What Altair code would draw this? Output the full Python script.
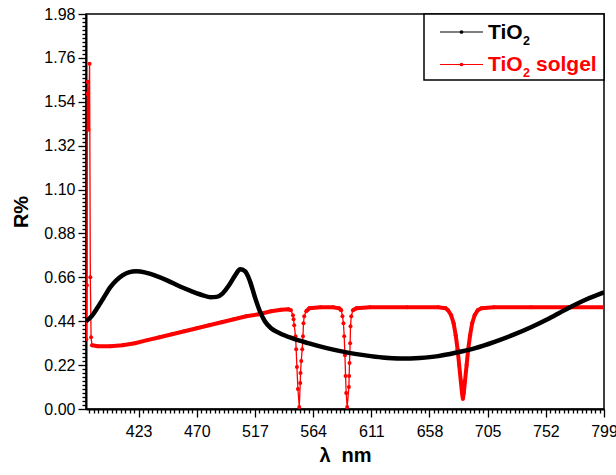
import altair as alt
import numpy as np
import pandas as pd

# ---- measured reflectance spectra -------------------------------------
tio2_nm = [380.5, 385, 390, 395, 400, 405, 410, 415, 421, 428, 436, 446, 456,
           466, 475, 481, 486, 491, 496, 501, 505, 509, 513, 517, 521, 525, 530,
           537, 547, 560, 575, 590, 605, 620, 635, 650, 665, 680, 695, 710,
           725, 740, 755, 770, 785, 799]
tio2_r = [0.44, 0.465, 0.51, 0.56, 0.61, 0.645, 0.67, 0.685, 0.69, 0.685, 0.67,
          0.645, 0.615, 0.59, 0.57, 0.56, 0.562, 0.58, 0.62, 0.67, 0.70, 0.69,
          0.64, 0.56, 0.49, 0.44, 0.405, 0.38, 0.355, 0.33, 0.305, 0.285, 0.27,
          0.258, 0.253, 0.256, 0.265, 0.283, 0.305, 0.335, 0.37, 0.41, 0.455,
          0.505, 0.55, 0.585]

solgel_nm = [380.7, 381.2, 381.6, 381.9, 382.5, 383.4, 384.0, 384.6, 385.3,
             390, 400, 410, 420, 430, 440, 450, 460, 470, 480, 490, 500, 510,
             520, 530, 538, 544,
             546.1, 547.7, 548.2, 548.7, 549.8, 550.3, 550.9, 551.7, 552.8,
             553.6, 553.8, 554.4, 555.2, 555.8, 556.2, 556.8, 558.4,
             561, 570, 580, 585,
             586.7, 587.7, 588.5, 589.1, 589.7, 590.2, 590.7, 591.5, 592.9,
             593.1, 593.4, 593.9, 594.2, 594.8, 596.1,
             599, 610, 640, 665, 671,
             673, 675.5, 677.5, 679.2, 680.7, 682, 683.3, 684.3, 685, 685.7,
             686.7, 688, 689.3, 690.8, 692.5, 694.5, 697,
             700, 710, 740, 770, 799]
solgel_r = [0.35, 0.62, 1.58, 1.64, 1.40, 1.73, 0.66, 0.36, 0.32,
            0.315, 0.315, 0.32, 0.33, 0.345, 0.36, 0.375, 0.39, 0.405, 0.42,
            0.435, 0.45, 0.465, 0.475, 0.49, 0.497, 0.50,
            0.495, 0.47, 0.45, 0.42, 0.365, 0.30, 0.21, 0.10, 0.01,
            0.13, 0.18, 0.24, 0.30, 0.365, 0.43, 0.465, 0.49,
            0.505, 0.51, 0.51, 0.505,
            0.495, 0.465, 0.43, 0.365, 0.27, 0.165, 0.08, 0.01, 0.11,
            0.165, 0.23, 0.33, 0.415, 0.465, 0.495,
            0.505, 0.51, 0.51, 0.51, 0.505,
            0.495, 0.47, 0.43, 0.37, 0.30, 0.22, 0.14, 0.08, 0.05, 0.08,
            0.14, 0.22, 0.30, 0.37, 0.43, 0.47, 0.495,
            0.505, 0.51, 0.51, 0.51, 0.51]

# ---- axes -------------------------------------------------------------
x_domain = [380.5, 799]
x_major_start, x_major_step = 423, 47
x_minor_per_major = 13
y_major_step = 0.22
y_minor_step = 0.02
y_top = 1.98

legend_names = ["TiO", "TiO"]
legend_suffix = ["", "solgel"]
legend_colors = ["black", "red"]

FONT = "Liberation Sans"

black = pd.DataFrame({"nm": tio2_nm, "r": tio2_r})
red = pd.DataFrame({"nm": solgel_nm, "r": solgel_r})
red["order"] = np.arange(len(red))
# the two narrow notches are drawn with thin strokes; the rest is dense
red["part"] = np.searchsorted([546.2, 586.8], red["nm"])

step = x_major_step / x_minor_per_major
x_ticks = [round(x_major_start + k * step, 4) for k in range(-20, 8 * x_minor_per_major + 1)]
x_ticks = [v for v in x_ticks if x_domain[0] <= v <= x_domain[1] + 1e-6]
y_ticks = [round(i * y_minor_step, 2) for i in range(int(round(y_top / y_minor_step)) + 1)]

x_major_test = (f"abs((datum.value - {x_major_start}) / {x_major_step} - "
                f"round((datum.value - {x_major_start}) / {x_major_step})) < 0.001")
y_major_test = (f"abs(datum.value / {y_major_step} - "
                f"round(datum.value / {y_major_step})) < 0.001")

x_axis = alt.Axis(
    values=x_ticks,
    labelExpr=f"{x_major_test} ? format(datum.value, 'd') : ''",
    tickSize={"condition": {"test": x_major_test, "value": 8}, "value": 4},
    tickWidth=1.3, tickColor="black",
    domainColor="black", domainWidth=2,
    labelFont=FONT, labelFontSize=16, labelColor="black",
    labelPadding=6, labelOverlap=False, labelFlush=False,
    grid=False,
    title="λ\u00a0\u00a0nm", titleFont=FONT, titleFontSize=20, titleFontWeight="bold",
    titleColor="black", titlePadding=6,
)
y_axis = alt.Axis(
    values=y_ticks,
    labelExpr=f"{y_major_test} ? format(datum.value, '.2f') : ''",
    tickSize={"condition": {"test": y_major_test, "value": 8}, "value": 4},
    tickWidth=1.3, tickColor="black",
    domainColor="black", domainWidth=2,
    labelFont=FONT, labelFontSize=16, labelColor="black",
    labelPadding=3, labelOverlap=False, labelFlush=False,
    grid=False,
    title="R%", titleFont=FONT, titleFontSize=20, titleFontWeight="bold",
    titleColor="black", titlePadding=12,
)

X = alt.X("nm:Q", scale=alt.Scale(domain=x_domain, nice=False, zero=False), axis=x_axis)
Y = alt.Y("r:Q", scale=alt.Scale(domain=[0, y_top], nice=False, zero=False), axis=y_axis)

red_thin = alt.Chart(red).mark_line(color="red", strokeWidth=1.3, clip=True).encode(
    x=X, y=Y, order="order:Q")
red_thick = (
    alt.Chart(red)
    .transform_filter(
        "datum.nm >= 385.3 && (datum.nm <= 546.1 || datum.nm >= 558.4) && "
        "(datum.nm <= 586.7 || datum.nm >= 596.1)")
    .mark_line(color="red", strokeWidth=4, clip=True)
    .encode(x=X, y=Y, detail="part:N", order="order:Q")
)
red_pts = alt.Chart(red).mark_circle(color="red", size=16, opacity=1, clip=True).encode(x=X, y=Y)
black_line = alt.Chart(black).mark_line(
    color="black", strokeWidth=4.5, interpolate="monotone", clip=True
).encode(x=X, y=Y)

# ---- legend box -------------------------------------------------------
one = alt.Chart(pd.DataFrame({"k": [0]}))
legend_layers = [
    one.mark_rect(fill="white", stroke="black", strokeWidth=1.5).encode(
        x=alt.value(338), x2=alt.value(518), y=alt.value(0), y2=alt.value(66))
]
for i, (name, suffix, col) in enumerate(zip(legend_names, legend_suffix, legend_colors)):
    yy = 18 + 32.5 * i
    legend_layers += [
        one.mark_rule(color=col, strokeWidth=1.2).encode(
            x=alt.value(354), x2=alt.value(397), y=alt.value(yy)),
        one.mark_circle(color=col, size=14, opacity=1).encode(
            x=alt.value(375.5), y=alt.value(yy)),
        one.mark_text(align="left", baseline="middle", font=FONT, fontSize=21,
                      fontWeight="bold", color=col).encode(
            x=alt.value(402), y=alt.value(yy + 0.5), text=alt.value(name)),
        one.mark_text(align="left", baseline="middle", font=FONT, fontSize=12.5,
                      fontWeight="bold", color=col).encode(
            x=alt.value(437), y=alt.value(yy + 8.5), text=alt.value("2")),
    ]
    if suffix:
        legend_layers.append(
            one.mark_text(align="left", baseline="middle", font=FONT, fontSize=21,
                          fontWeight="bold", color=col).encode(
                x=alt.value(450), y=alt.value(yy + 0.5), text=alt.value(suffix)))

chart = (
    alt.layer(red_thin, red_thick, red_pts, black_line, *legend_layers)
    .properties(
        width=518, height=395,
        autosize=alt.AutoSizeParams(type="none"),
        padding={"left": 86, "top": 14, "right": 12, "bottom": 66},
        background="white",
    )
    .configure_view(stroke="black", strokeWidth=1.5)
)

chart.save("out.html", embed_options={"renderer": "svg", "actions": False})
